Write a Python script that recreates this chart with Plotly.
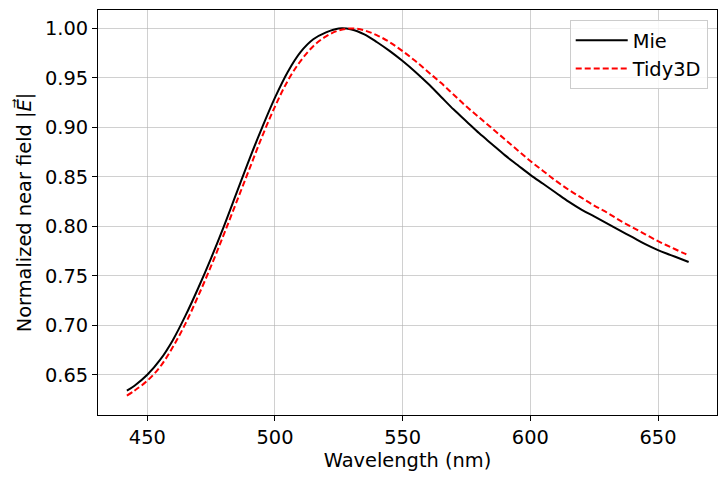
import plotly.graph_objects as go

wavelength = [442, 445, 450, 455, 460, 465, 470, 475, 480, 485, 490, 495, 500,
              505, 510, 515, 520, 525, 530, 535, 540, 545, 550, 555, 560, 565,
              570, 575, 580, 585, 590, 595, 600, 605, 610, 615, 620, 625, 630,
              635, 640, 645, 650, 655, 660, 662]

mie = [0.634, 0.639, 0.650, 0.665, 0.685, 0.710, 0.738, 0.768, 0.800, 0.834,
       0.868, 0.900, 0.930, 0.956, 0.976, 0.989, 0.996, 1.000, 0.999, 0.994,
       0.986, 0.977, 0.967, 0.956, 0.944, 0.931, 0.918, 0.906, 0.894, 0.883,
       0.872, 0.862, 0.852, 0.843, 0.834, 0.825, 0.817, 0.810, 0.803, 0.796,
       0.789, 0.782, 0.776, 0.771, 0.766, 0.764]

tidy3d = [0.629, 0.634, 0.644, 0.658, 0.678, 0.702, 0.730, 0.760, 0.792, 0.825,
          0.858, 0.891, 0.921, 0.947, 0.967, 0.982, 0.992, 0.998, 1.000, 0.998,
          0.993, 0.986, 0.977, 0.967, 0.956, 0.945, 0.933, 0.921, 0.910, 0.899,
          0.888, 0.877, 0.866, 0.856, 0.846, 0.837, 0.829, 0.821, 0.814, 0.806,
          0.799, 0.792, 0.785, 0.779, 0.773, 0.771]

series_names = ["Mie", "Tidy3D"]
x_ticks = [450, 500, 550, 600, 650]
y_ticks = [0.65, 0.70, 0.75, 0.80, 0.85, 0.90, 0.95, 1.00]
x_title = "Wavelength (nm)"
y_title = "Normalized near field |<i>E\u20d7</i>|"

FONT = "DejaVu Sans"
FS = 19.4

fig = go.Figure()
fig.add_trace(go.Scatter(x=wavelength, y=mie, mode="lines", name=series_names[0],
                         line=dict(color="black", width=2, shape="spline", smoothing=1.0)))
fig.add_trace(go.Scatter(x=wavelength, y=tidy3d, mode="lines", name=series_names[1],
                         line=dict(color="red", width=2, dash="6px,3px", shape="spline", smoothing=1.0)))

axis_common = dict(
    showline=True, linecolor="black", linewidth=1, mirror=True,
    ticks="outside", ticklen=5, tickwidth=1, tickcolor="black",
    showgrid=True, gridcolor="rgba(176,176,176,0.6)", gridwidth=0.8,
    zeroline=False,
    tickfont=dict(family=FONT, size=FS, color="black"),
)

fig.update_xaxes(range=[430.7, 673.1], tickvals=x_ticks, automargin=True,
                 title=dict(text=x_title, font=dict(family=FONT, size=FS, color="black"), standoff=2),
                 **axis_common)
fig.update_yaxes(range=[0.6094, 1.0186], tickvals=y_ticks, tickformat=".2f", automargin=False,
                 title=dict(text=y_title, font=dict(family=FONT, size=FS, color="black"), standoff=8),
                 **axis_common)

fig.update_layout(
    width=720, height=470,
    margin=dict(l=90, r=11, t=2, b=63),
    plot_bgcolor="white", paper_bgcolor="white",
    font=dict(family=FONT, size=FS, color="black"),
    legend=dict(x=0.985, y=0.975, xanchor="right", yanchor="top",
                bgcolor="rgba(255,255,255,0.8)", bordercolor="#cccccc", borderwidth=1,
                font=dict(family=FONT, size=FS, color="black"),
                itemwidth=52, tracegroupgap=2),
    showlegend=True,
)

fig.write_html("out.html")
